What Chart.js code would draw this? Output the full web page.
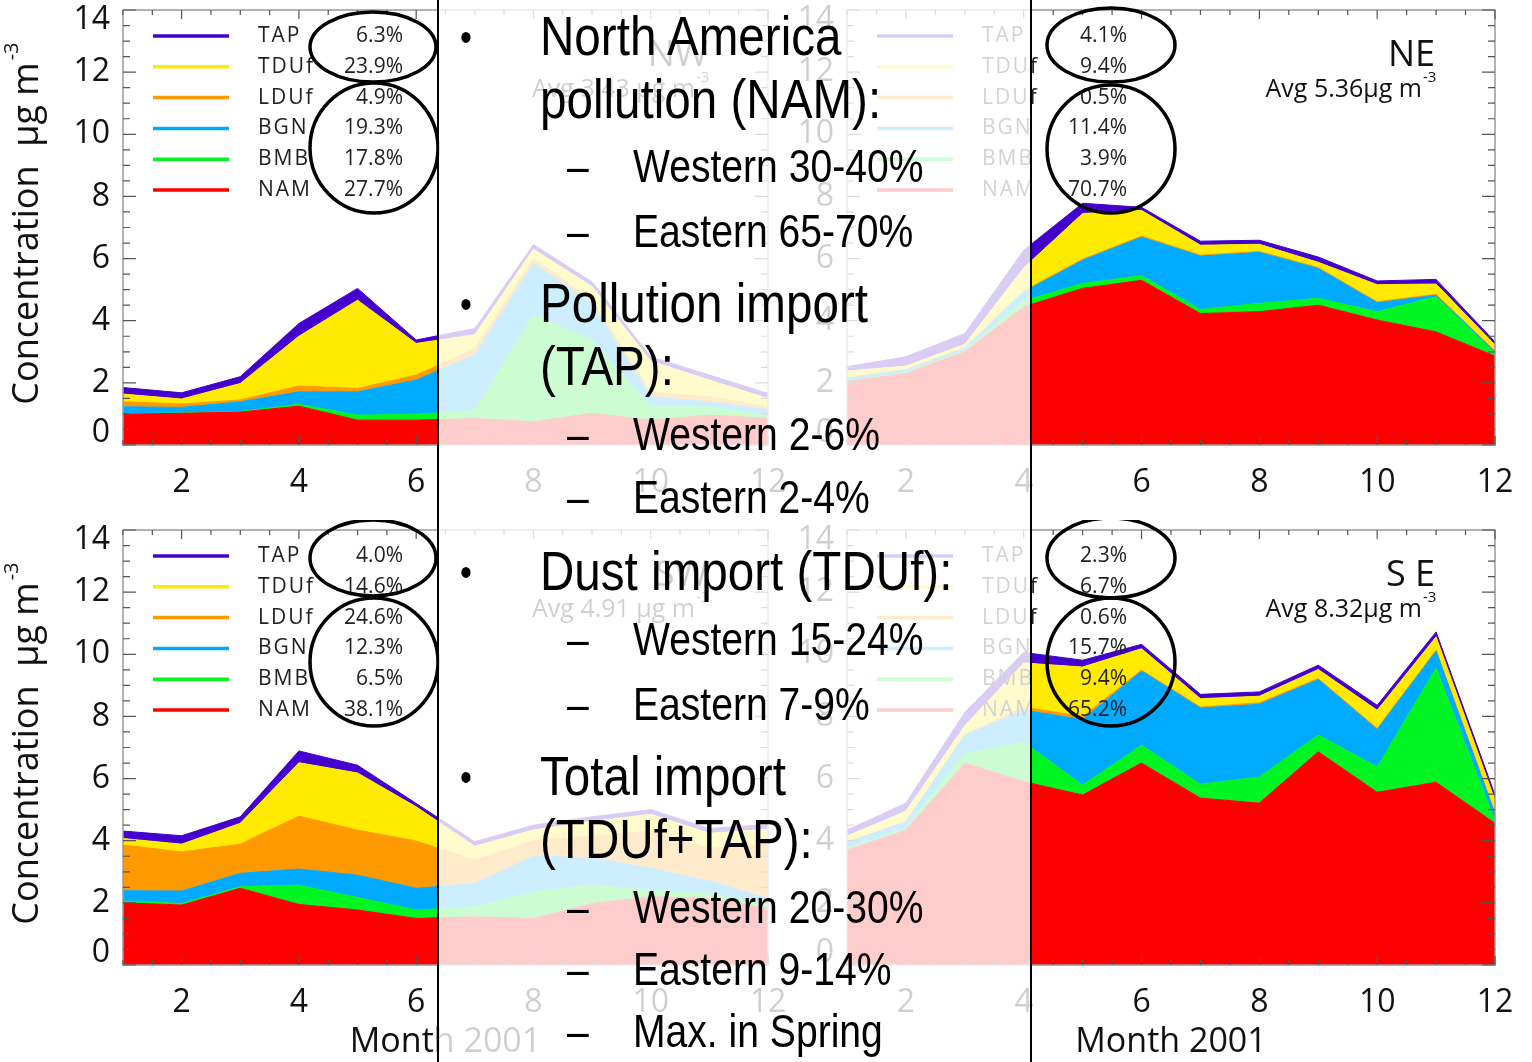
<!DOCTYPE html>
<html>
<head>
<meta charset="utf-8">
<script src="https://cdn.jsdelivr.net/npm/chart.js@4.4.0/dist/chart.umd.min.js"></script>
<style>
  html, body { margin: 0; padding: 0; background: #fff; }
  #page { position: relative; width: 1532px; height: 1062px; overflow: hidden; background: #fff; }
  #page canvas { position: absolute; }
  #veil { position: absolute; left: 437px; top: 0; width: 595px; height: 1062px;
          background: rgba(255,255,255,0.8); border-left: 2px solid #000; border-right: 2px solid #000;
          box-sizing: border-box; }
  #notes { position: absolute; left: 0; top: 0; }
</style>
</head>
<body>
<div id="page">
  <canvas id="nw" width="790" height="520" style="left:0;top:0"></canvas>
  <canvas id="ne" width="757" height="520" style="left:775px;top:0"></canvas>
  <canvas id="sw" width="790" height="542" style="left:0;top:520px"></canvas>
  <canvas id="se" width="757" height="542" style="left:775px;top:520px"></canvas>
  <div id="veil"></div>
  <svg id="notes" width="1532" height="1062" font-family="'Liberation Sans', Arial, sans-serif" fill="#000">
    <text transform="translate(460 51) scale(0.85 1)" font-size="40">•</text>
    <text transform="translate(540 55) scale(0.85 1)" font-size="56">North America</text>
    <text transform="translate(540 118) scale(0.85 1)" font-size="56">pollution (NAM):</text>
    <text transform="translate(567 182) scale(0.85 1)" font-size="46">–</text>
    <text transform="translate(633 182) scale(0.85 1)" font-size="46">Western 30-40%</text>
    <text transform="translate(567 247) scale(0.85 1)" font-size="46">–</text>
    <text transform="translate(633 247) scale(0.85 1)" font-size="46">Eastern 65-70%</text>

    <text transform="translate(460 318) scale(0.85 1)" font-size="40">•</text>
    <text transform="translate(540 322) scale(0.85 1)" font-size="56">Pollution import</text>
    <text transform="translate(540 385) scale(0.85 1)" font-size="56">(TAP):</text>
    <text transform="translate(567 450) scale(0.85 1)" font-size="46">–</text>
    <text transform="translate(633 450) scale(0.85 1)" font-size="46">Western 2-6%</text>
    <text transform="translate(567 513) scale(0.85 1)" font-size="46">–</text>
    <text transform="translate(633 513) scale(0.85 1)" font-size="46">Eastern 2-4%</text>

    <text transform="translate(460 586) scale(0.85 1)" font-size="40">•</text>
    <text transform="translate(540 590) scale(0.85 1)" font-size="56">Dust import (TDUf):</text>
    <text transform="translate(567 655) scale(0.85 1)" font-size="46">–</text>
    <text transform="translate(633 655) scale(0.85 1)" font-size="46">Western 15-24%</text>
    <text transform="translate(567 720) scale(0.85 1)" font-size="46">–</text>
    <text transform="translate(633 720) scale(0.85 1)" font-size="46">Eastern 7-9%</text>

    <text transform="translate(460 791) scale(0.85 1)" font-size="40">•</text>
    <text transform="translate(540 795) scale(0.85 1)" font-size="56">Total import</text>
    <text transform="translate(540 858) scale(0.85 1)" font-size="56">(TDUf+TAP):</text>
    <text transform="translate(567 923) scale(0.85 1)" font-size="46">–</text>
    <text transform="translate(633 923) scale(0.85 1)" font-size="46">Western 20-30%</text>
    <text transform="translate(567 985) scale(0.85 1)" font-size="46">–</text>
    <text transform="translate(633 985) scale(0.85 1)" font-size="46">Eastern 9-14%</text>
    <text transform="translate(567 1047) scale(0.85 1)" font-size="46">–</text>
    <text transform="translate(633 1047) scale(0.85 1)" font-size="46">Max. in Spring</text>
  </svg>
</div>
<script>
// months of 2001 and axis labels
const months = [1, 2, 3, 4, 5, 6, 7, 8, 9, 10, 11, 12];
const xTicks = [2, 4, 6, 8, 10, 12];
const yTicks = [0, 2, 4, 6, 8, 10, 12, 14];

// stacking order, bottom to top
const species = ['NAM', 'BMB', 'BGN', 'LDUf', 'TDUf', 'TAP'];
const colors = ['#ff0000', '#00f522', '#00aaff', '#ff9900', '#ffea00', '#4400cc'];

// NW, concentration ug m-3
const nwNAM  = [0.99, 1.02, 1.06, 1.25, 0.80, 0.80, 0.85, 0.75, 1.02, 0.80, 0.96, 0.86];
const nwBMB  = [0.01, 0.01, 0.02, 0.06, 0.16, 0.19, 0.25, 3.45, 2.36, 0.43, 0.27, 0.10];
const nwBGN  = [0.23, 0.18, 0.31, 0.40, 0.75, 1.10, 1.80, 1.65, 1.17, 0.32, 0.16, 0.17];
const nwLDUf = [0.16, 0.11, 0.06, 0.19, 0.11, 0.16, 0.20, 0.15, 0.11, 0.15, 0.16, 0.10];
const nwTDUf = [0.25, 0.16, 0.53, 1.60, 2.84, 1.02, 0.45, 0.30, 0.44, 1.00, 0.54, 0.27];
const nwTAP  = [0.21, 0.20, 0.22, 0.41, 0.38, 0.11, 0.20, 0.15, 0.15, 0.14, 0.16, 0.16];

// NE
const neNAM  = [2.04, 2.30, 3.00, 4.45, 5.04, 5.30, 4.23, 4.29, 4.50, 4.02, 3.64, 2.86];
const neBMB  = [0.02, 0.03, 0.03, 0.19, 0.16, 0.15, 0.13, 0.27, 0.22, 0.27, 1.13, 0.09];
const neBGN  = [0.08, 0.08, 0.08, 0.29, 0.75, 1.24, 1.72, 1.64, 0.96, 0.29, 0.05, 0.05];
const neLDUf = [0.04, 0.02, 0.03, 0.03, 0.03, 0.03, 0.03, 0.03, 0.03, 0.03, 0.03, 0.02];
const neTDUf = [0.20, 0.11, 0.10, 0.74, 1.47, 0.83, 0.32, 0.23, 0.17, 0.55, 0.33, 0.20];
const neTAP  = [0.14, 0.30, 0.35, 0.57, 0.33, 0.10, 0.13, 0.13, 0.17, 0.12, 0.15, 0.10];

// SW
const swNAM  = [2.00, 1.93, 2.47, 1.95, 1.77, 1.50, 1.55, 1.50, 1.98, 2.20, 2.14, 1.82];
const swBMB  = [0.06, 0.05, 0.05, 0.62, 0.40, 0.27, 0.32, 0.86, 0.59, 0.21, 0.16, 0.16];
const swBGN  = [0.33, 0.40, 0.43, 0.52, 0.72, 0.70, 0.75, 1.14, 0.88, 0.70, 0.40, 0.16];
const swLDUf = [1.47, 1.26, 0.94, 1.70, 1.45, 1.52, 0.75, 0.50, 0.70, 1.20, 1.05, 1.75];
const swTDUf = [0.21, 0.25, 0.67, 1.72, 1.84, 1.10, 0.45, 0.35, 0.47, 0.54, 0.49, 0.48];
const swTAP  = [0.24, 0.27, 0.21, 0.38, 0.25, 0.11, 0.15, 0.15, 0.15, 0.15, 0.15, 0.15];

// SE
const seNAM  = [3.70, 4.34, 6.50, 5.90, 5.47, 6.50, 5.37, 5.21, 6.86, 5.56, 5.88, 4.56];
const seBMB  = [0.06, 0.06, 0.30, 1.27, 0.32, 0.57, 0.45, 0.84, 0.54, 0.81, 3.67, 0.06];
const seBGN  = [0.19, 0.20, 0.60, 1.03, 2.11, 2.39, 2.45, 2.34, 1.79, 1.21, 0.55, 0.23];
const seLDUf = [0.02, 0.02, 0.02, 0.10, 0.10, 0.03, 0.03, 0.05, 0.03, 0.03, 0.03, 0.05];
const seTDUf = [0.18, 0.33, 0.28, 1.42, 1.59, 0.69, 0.27, 0.21, 0.29, 0.59, 0.43, 0.40];
const seTAP  = [0.19, 0.26, 0.43, 0.34, 0.22, 0.14, 0.14, 0.14, 0.14, 0.16, 0.16, 0.17];

// annual shares in %, same order as species
const nwPct = [27.7, 17.8, 19.3, 4.9, 23.9, 6.3];
const nePct = [70.7, 3.9, 11.4, 0.5, 9.4, 4.1];
const swPct = [38.1, 6.5, 12.3, 24.6, 14.6, 4.0];
const sePct = [65.2, 9.4, 15.7, 0.6, 6.7, 2.3];

const panels = [
  { id: 'nw', name: 'NW', avg: 'Avg 3.43 μg m', left: 123, right: 768, yTitle: true, xTitle: false,
    series: [nwNAM, nwBMB, nwBGN, nwLDUf, nwTDUf, nwTAP], pct: nwPct,
    rings: [[373, 47, 63, 35], [374, 148, 64, 65]] },
  { id: 'ne', name: 'NE', avg: 'Avg 5.36μg m', left: 72, right: 720, yTitle: false, xTitle: false,
    series: [neNAM, neBMB, neBGN, neLDUf, neTDUf, neTAP], pct: nePct,
    rings: [[336, 45, 64, 37], [336, 149, 64, 64]] },
  { id: 'sw', name: 'SW', avg: 'Avg 4.91 μg m', left: 123, right: 768, yTitle: true, xTitle: true,
    series: [swNAM, swBMB, swBGN, swLDUf, swTDUf, swTAP], pct: swPct,
    rings: [[373, 38, 63, 38], [374, 142, 64, 64]] },
  { id: 'se', name: 'S E', avg: 'Avg 8.32μg m', left: 72, right: 720, yTitle: false, xTitle: true,
    series: [seNAM, seBMB, seBGN, seLDUf, seTDUf, seTAP], pct: sePct,
    rings: [[336, 38, 64, 40], [336, 142, 64, 64]] }
];

function decor(p) {
  return {
    id: 'decor_' + p.id,
    afterDatasetsDraw(chart) {
      const ctx = chart.ctx;
      const { left, right, top, bottom } = chart.chartArea;
      const xs = chart.scales.x, ys = chart.scales.y;
      ctx.save();

      // frame and inward ticks
      ctx.strokeStyle = '#9a9a9a';
      ctx.lineWidth = 1.5;
      ctx.strokeRect(left, top, right - left, bottom - top);
      ctx.strokeStyle = '#555';
      ctx.lineWidth = 1.2;
      ctx.beginPath();
      for (let v = 0; v <= 14; v += 0.5) {
        const y = ys.getPixelForValue(v);
        const len = v % 2 === 0 ? 13 : 7;
        ctx.moveTo(left, y); ctx.lineTo(left + len, y);
        ctx.moveTo(right, y); ctx.lineTo(right - len, y);
      }
      for (let m = 1; m <= 12; m += 0.5) {
        const x = xs.getPixelForValue(m);
        const len = m % 2 === 0 ? 9 : 5;
        ctx.moveTo(x, bottom); ctx.lineTo(x, bottom - len);
        ctx.moveTo(x, top); ctx.lineTo(x, top + len);
      }
      ctx.stroke();

      // tick labels
      ctx.fillStyle = '#111';
      ctx.font = '32px "Open Sans"';
      ctx.textAlign = 'right';
      ctx.textBaseline = 'middle';
      yTicks.forEach(v => {
        const y = Math.min(Math.max(ys.getPixelForValue(v), top + 10), bottom - 12);
        ctx.fillText(String(v), left - 13, y);
      });
      ctx.textAlign = 'center';
      xTicks.forEach(m => ctx.fillText(String(m), xs.getPixelForValue(m), bottom + 38));

      // legend with annual shares
      for (let j = 0; j < species.length; j++) {
        const k = species.length - 1 - j;
        const y = top + 26 + j * 30.8;
        ctx.strokeStyle = colors[k];
        ctx.lineWidth = 3.5;
        ctx.beginPath();
        ctx.moveTo(left + 30, y); ctx.lineTo(left + 106, y);
        ctx.stroke();
        ctx.fillStyle = '#222';
        ctx.font = '21px "Open Sans"';
        ctx.textAlign = 'left';
        ctx.letterSpacing = '2px';
        ctx.fillText(species[k], left + 135, y);
        ctx.letterSpacing = '0px';
        ctx.textAlign = 'right';
        ctx.fillText(p.pct[k].toFixed(1) + '%', left + 280, y);
      }

      // circled shares
      ctx.strokeStyle = '#000';
      ctx.lineWidth = 3.5;
      p.rings.forEach(r => {
        ctx.beginPath();
        ctx.ellipse(r[0], r[1], r[2], r[3], 0, 0, Math.PI * 2);
        ctx.stroke();
      });

      // region name and mean
      ctx.fillStyle = '#111';
      ctx.textAlign = 'right';
      ctx.font = '36px "Open Sans"';
      ctx.fillText(p.name, right - 60, top + 46);
      ctx.font = '25px "Open Sans"';
      ctx.fillText(p.avg, right - 73, top + 80);
      ctx.textAlign = 'left';
      ctx.font = '15px "Open Sans"';
      ctx.fillText('-3', right - 72, top + 68);

      // axis titles
      ctx.fillStyle = '#111';
      if (p.yTitle) {
        ctx.save();
        ctx.translate(28, (top + bottom) / 2 - 4);
        ctx.rotate(-Math.PI / 2);
        ctx.font = '36px "Open Sans"';
        const main = 'Concentration  μg m';
        const wMain = ctx.measureText(main).width;
        ctx.textAlign = 'left';
        ctx.fillText(main, -(wMain + 20) / 2, 0);
        ctx.font = '20px "Open Sans"';
        ctx.fillText('-3', -(wMain + 20) / 2 + wMain + 2, -16);
        ctx.restore();
      }
      if (p.xTitle) {
        ctx.textAlign = 'center';
        ctx.font = '34px "Open Sans"';
        ctx.fillText('Month 2001', (left + right) / 2, bottom + 77);
      }
      ctx.restore();
    }
  };
}

panels.forEach(p => {
  const canvas = document.getElementById(p.id);
  const w = canvas.width, h = canvas.height;
  new Chart(canvas.getContext('2d'), {
    type: 'line',
    data: {
      datasets: species.map((s, k) => ({
        label: s,
        data: months.map((m, i) => ({ x: m, y: p.series[k][i] })),
        backgroundColor: colors[k],
        borderColor: colors[k],
        borderWidth: 1,
        fill: k === 0 ? 'origin' : '-1',
        pointRadius: 0,
        tension: 0
      }))
    },
    options: {
      responsive: false,
      animation: false,
      devicePixelRatio: 1,
      layout: { autoPadding: false, padding: { top: 10, right: w - p.right, left: 0, bottom: 0 } },
      plugins: { legend: { display: false }, tooltip: { enabled: false } },
      scales: {
        x: {
          type: 'linear', min: 1, max: 12,
          ticks: { display: false }, grid: { display: false }, border: { display: false },
          afterFit: s => { s.height = h - 445; }
        },
        y: {
          stacked: true, min: 0, max: 14,
          ticks: { display: false }, grid: { display: false }, border: { display: false },
          afterFit: s => { s.width = p.left; }
        }
      }
    },
    plugins: [decor(p)]
  });
});
</script>
</body>
</html>
